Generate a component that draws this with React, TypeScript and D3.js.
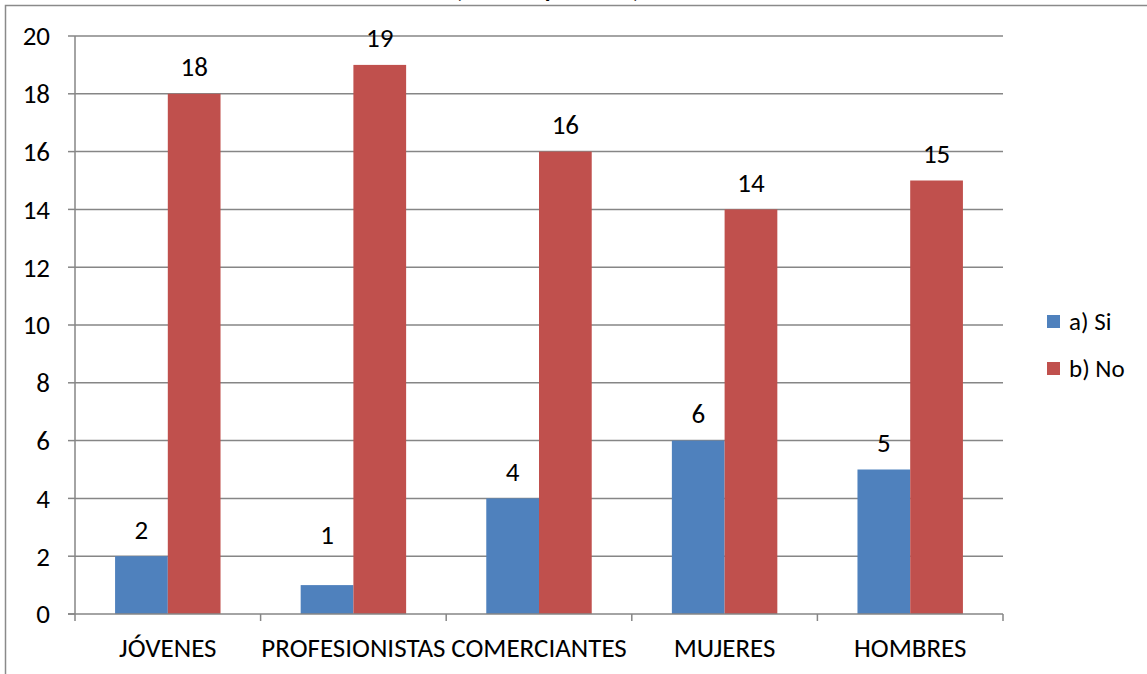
import React from "react";
import * as d3 from "d3";

const categories = ["JÓVENES", "PROFESIONISTAS", "COMERCIANTES", "MUJERES", "HOMBRES"];
const seriesNames = ["a) Si", "b) No"];
const siValues = [2, 1, 4, 6, 5];
const noValues = [18, 19, 16, 14, 15];
const yTicks = [0, 2, 4, 6, 8, 10, 12, 14, 16, 18, 20];
const colors = ["#4F81BD", "#C0504D"];
const title = "(Total de personas)";

const W = 1147;
const H = 674;
const left = 75;
const right = 1003;
const top = 36;
const bottom = 614;
const font = "Carlito, Lato, sans-serif";
const fs = 27;

export default function App() {
  const x = d3.scaleBand<string>().domain(categories).range([left, right]).paddingInner(0).paddingOuter(0);
  const inner = d3.scaleBand<string>().domain(seriesNames).range([0, x.bandwidth()]).paddingInner(0).paddingOuter(0.76);
  const y = d3.scaleLinear().domain([0, 20]).range([bottom, top]);
  const series = [siValues, noValues];
  const gridColor = "#868686";
  const boundaries = categories.map((c) => x(c) as number).concat([right]);

  return (
    <svg width={W} height={H} style={{ position: "absolute", left: 0, top: 0, background: "#fff" }} fontFamily={font}>
      <rect x={0} y={0} width={W} height={H} fill="#fff" />
      <text x={455} y={-3} fontSize={27} fontWeight="bold" fill="#000" textLength={185} lengthAdjust="spacingAndGlyphs">{title}</text>
      <path d={`M5.5,${H} V5.5 H${W + 5}`} fill="none" stroke="#8a8a8a" strokeWidth={1.5} />
      {yTicks.map((t) => (
        <g key={t}>
          {t > 0 && <line x1={left} x2={right} y1={y(t)} y2={y(t)} stroke={gridColor} strokeWidth={1.5} />}
          <line x1={left - 7} x2={left} y1={y(t)} y2={y(t)} stroke={gridColor} strokeWidth={1.5} />
          <text x={50} y={y(t)} dy="0.35em" textAnchor="end" fontSize={fs} fill="#000">{t}</text>
        </g>
      ))}
      {categories.map((c, i) => (
        <g key={c}>
          {series.map((vals, s) => {
            const bx = (x(c) as number) + (inner(seriesNames[s]) as number);
            const bw = inner.bandwidth();
            const v = vals[i];
            const ly = Math.min(y(v) - 27, y(2.75));
            return (
              <g key={s}>
                <rect x={bx} y={y(v)} width={bw} height={bottom - y(v)} fill={colors[s]} />
                <text x={bx + bw / 2} y={ly} textAnchor="middle" fontSize={fs} fill="#000" dy="0.35em">{v}</text>
              </g>
            );
          })}
          <text x={(x(c) as number) + x.bandwidth() / 2} y={648} dy="0.35em" textAnchor="middle" fontSize={fs} fill="#000">{c}</text>
        </g>
      ))}
      <line x1={left} x2={left} y1={top} y2={bottom} stroke={gridColor} strokeWidth={1.5} />
      <line x1={left - 7} x2={right} y1={bottom} y2={bottom} stroke={gridColor} strokeWidth={1.5} />
      {boundaries.map((b, i) => (
        <line key={i} x1={b} x2={b} y1={bottom} y2={bottom + 7} stroke={gridColor} strokeWidth={1.5} />
      ))}
      {seriesNames.map((s, i) => (
        <g key={s}>
          <rect x={1047} y={315 + i * 47} width={13} height={13} fill={colors[i]} />
          <text x={1069} y={321 + i * 47} dy="0.35em" fontSize={25} fill="#000">{s}</text>
        </g>
      ))}
    </svg>
  );
}
